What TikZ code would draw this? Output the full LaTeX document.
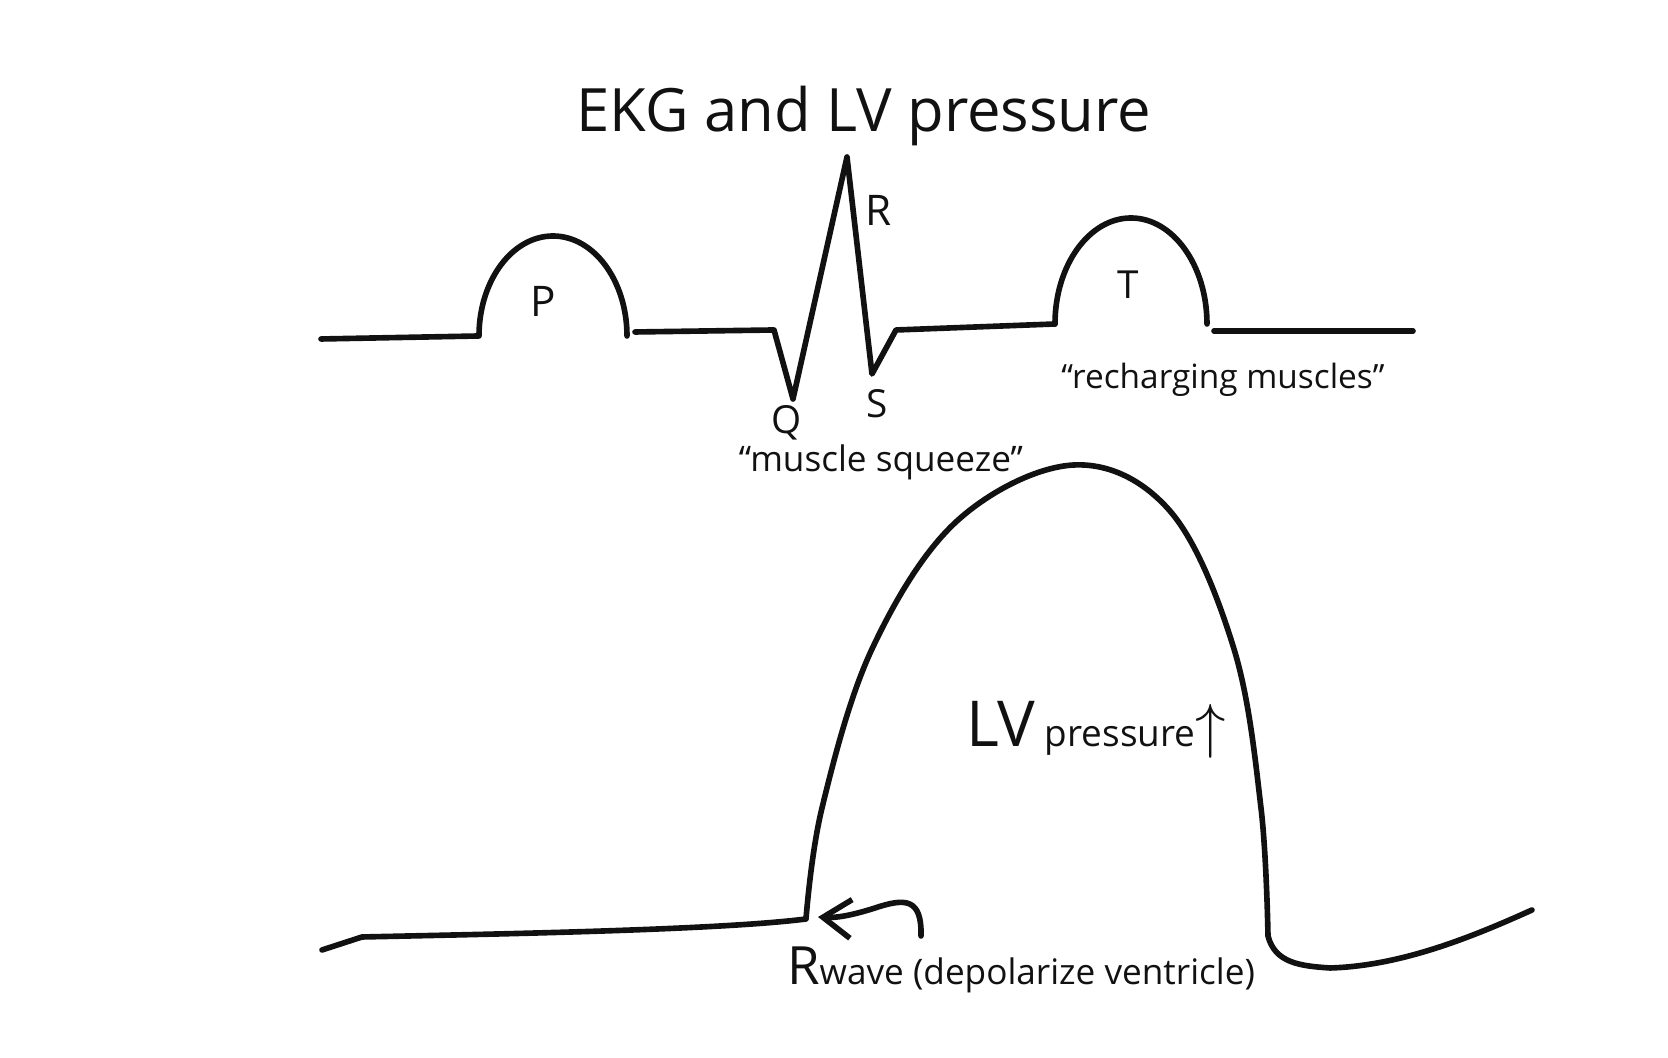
\documentclass[tikz,border=0pt]{standalone}
\usepackage{fontspec}
\setmainfont{Open Sans}
\usepackage{tikz}
\usetikzlibrary{calc,arrows.meta}
\definecolor{ink}{HTML}{111111}

\tikzset{
  trace/.style={ink, line width=1.6pt, line join=round, line cap=round},
  lbl/.style={ink, inner sep=1pt},
}

\begin{document}
\begin{tikzpicture}[x=0.01cm, y=0.01cm]
  \useasboundingbox (0,0) rectangle (1668,1058);

  % Punti del tracciato EKG
  \coordinate (E0) at (321,719);
  \coordinate (Pa) at (479,722);
  \coordinate (Pb) at (627,726);
  \coordinate (B1) at (635,726);
  \coordinate (B2) at (774,728);
  \coordinate (Q)  at (793,659);
  \coordinate (R)  at (847,901);
  \coordinate (S)  at (872,684);
  \coordinate (B3) at (896,728);
  \coordinate (Ta) at (1055,734);
  \coordinate (Tb) at (1206,728);
  \coordinate (B4) at (1214,727);
  \coordinate (E1) at (1413,727);

  % Onda P
  \draw[trace] (E0) -- (Pa) arc[start angle=180, end angle=0, x radius=74, y radius=100];
  % Complesso QRS
  \draw[trace] (B1) -- (B2) -- (Q) -- (R) -- (S) -- (B3) -- (Ta);
  % Onda T
  \draw[trace] (Ta) arc[start angle=180, end angle=0, x radius=76, y radius=106];
  \draw[trace] (B4) -- (E1);

  % Curva pressione LV
  \coordinate (L0) at (322,108);
  \coordinate (Rw) at (806,139);
  \draw[trace] (L0) -- (362,121) .. controls (500,124) and (720,128) .. (Rw)
    plot[smooth, tension=0.6] coordinates {(Rw) (822,250) (872,409) (957,537) (1074,593)
      (1170,547) (1234,409) (1261,250) (1268,122)}
    .. controls (1275,95) and (1300,92) .. (1330,90)
    .. controls (1400,92) and (1470,120) .. (1532,148);

  % Freccia onda R
  \coordinate (At) at (921,122);
  \draw[trace, -{Straight Barb[length=8pt, width=11pt]}]
    (At) .. controls (922,160) and (905,160) .. (875,150)
    .. controls (850,142) and (835,140) .. ($(Rw)+(12,2)$);

  % Etichette
  \node[lbl, font=\fontsize{17}{20}\selectfont] (title) at (864,942) {EKG and LV pressure};
  \node[lbl, font=\fontsize{12}{14}\selectfont] (pl) at (543,757) {P};
  \node[lbl, font=\fontsize{12}{14}\selectfont] (rl) at (879,848) {R};
  \node[lbl, font=\fontsize{11}{13}\selectfont] (ql) at (787,635) {Q};
  \node[lbl, font=\fontsize{11}{13}\selectfont] (sl) at (877,654) {S};
  \node[lbl, font=\fontsize{11}{13}\selectfont] (tl) at (1128,773) {T};
  \node[lbl, font=\fontsize{10}{12}\selectfont] (squeeze) at (881,596) {``muscle squeeze''};
  \node[lbl, font=\fontsize{9.5}{11}\selectfont] (recharge) at (1223,678) {``recharging muscles''};
  \node[lbl, font=\fontsize{10.5}{13}\selectfont] (lvp) at (1096,328)
    {{\fontsize{18}{20}\selectfont LV} pressure{\fontsize{16}{18}\selectfont$\uparrow$}};
  \node[lbl, font=\fontsize{10}{12}\selectfont] (rwave) at (1021,88)
    {{\fontsize{15}{18}\selectfont R}wave (depolarize ventricle)};
\end{tikzpicture}
\end{document}
